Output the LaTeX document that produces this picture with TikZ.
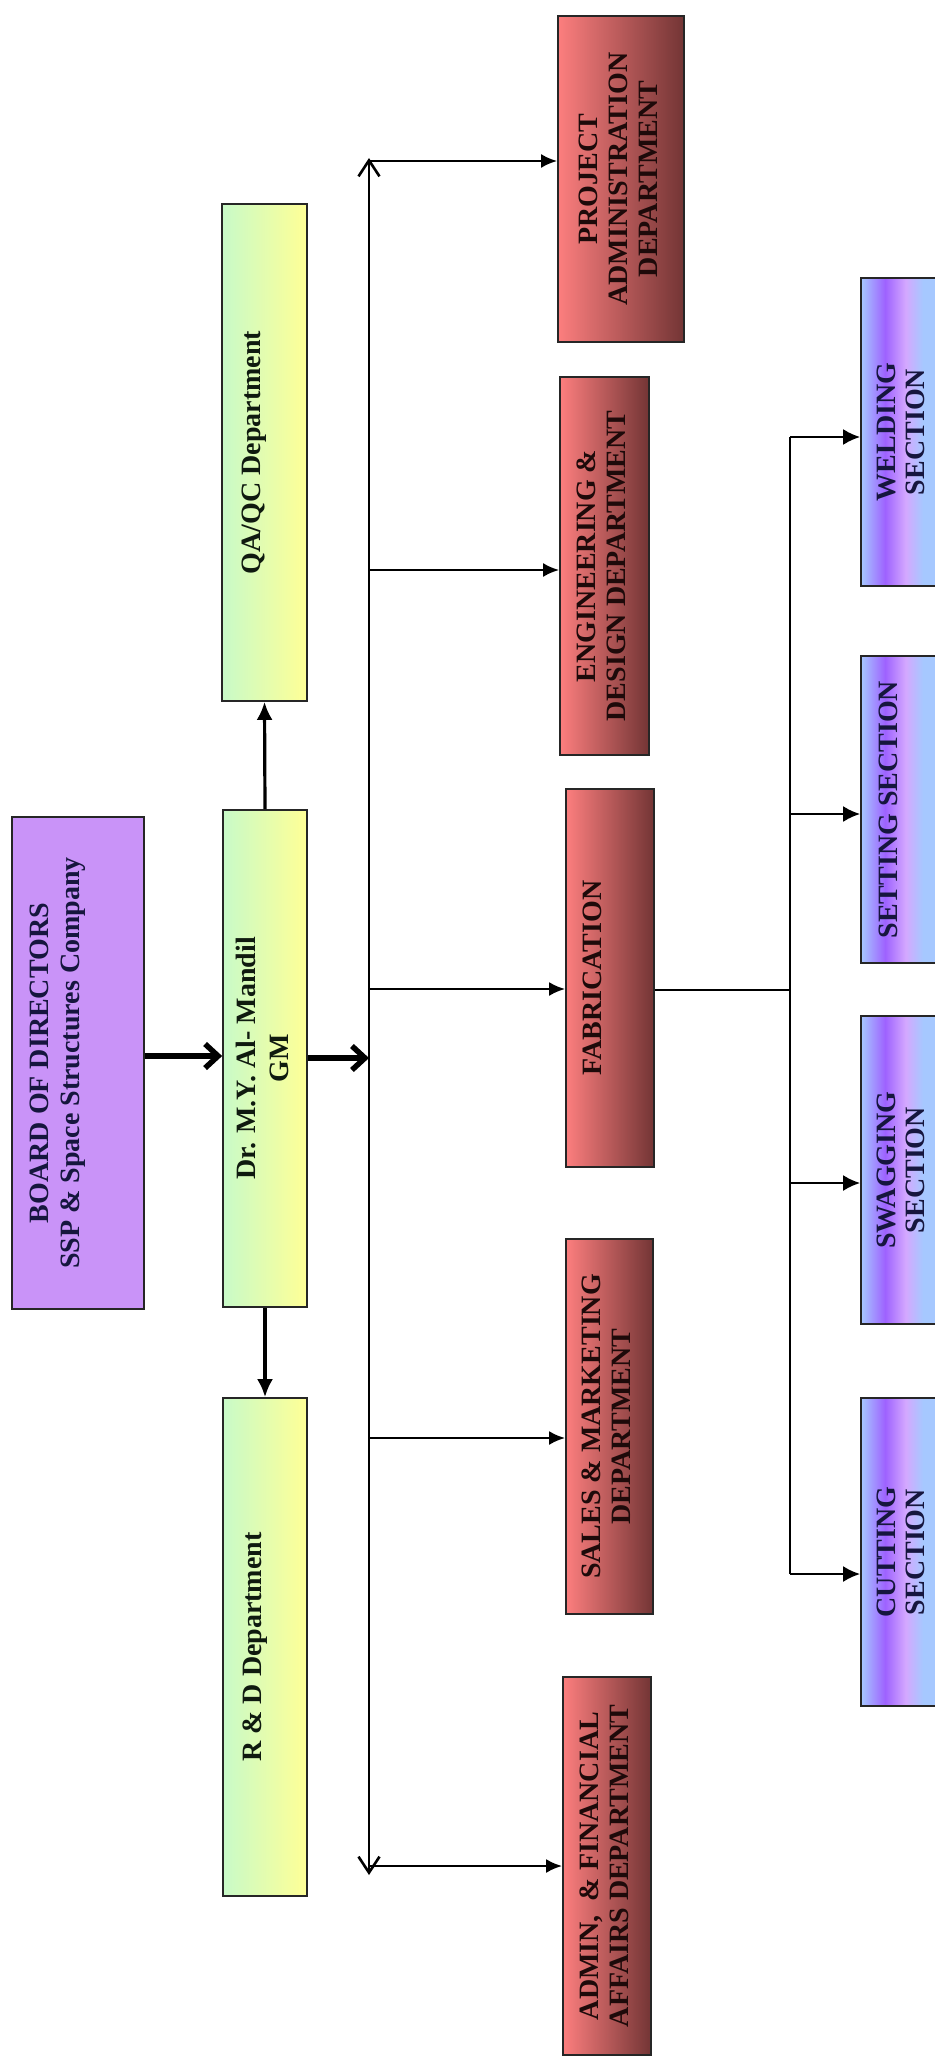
\documentclass[tikz,border=0pt]{standalone}
\usepackage{fontspec}
\setmainfont{Liberation Serif}
\usepackage{graphicx}
\usetikzlibrary{arrows.meta}
\definecolor{gL}{HTML}{C8FAC8}
\definecolor{gM}{HTML}{F2F9B2}
\definecolor{gR}{HTML}{FFFF96}
\definecolor{gT}{HTML}{0F1A0F}
\definecolor{rL}{HTML}{FC7E7E}
\definecolor{rM}{HTML}{E06E6E}
\definecolor{rR}{HTML}{733535}
\definecolor{rT}{HTML}{1E0A0A}
\definecolor{bA}{HTML}{A6C8FF}
\definecolor{bP}{HTML}{9E62FF}
\definecolor{bV}{HTML}{D4A8FF}
\definecolor{bT}{HTML}{16163E}
\definecolor{boardc}{HTML}{C993F8}
\pgfdeclarehorizontalshading{bluesh}{100bp}{color(0bp)=(bA); color(25bp)=(bA); color(39bp)=(bP); color(51bp)=(bV); color(61bp)=(bA); color(100bp)=(bA)}
\newcommand\vtxt[1]{\rotatebox{90}{\begin{tabular}{@{}c@{}}#1\end{tabular}}}
\tikzset{
  boxbase/.style={draw=black!85, line width=1.7pt, inner sep=0pt},
  boardbox/.style={boxbase, fill=boardc, text=bT, font=\bfseries\fontsize{28}{31}\selectfont},
  greenbox/.style={boxbase, left color=gL, middle color=gM, right color=gR, text=gT, font=\bfseries\fontsize{28}{31}\selectfont},
  gmbox/.style={greenbox, font=\bfseries\fontsize{28}{33}\selectfont},
  redbox/.style={boxbase, left color=rL, middle color=rM, right color=rR, text=rT, font=\bfseries\fontsize{28}{30}\selectfont},
  bluebox/.style={boxbase, shading=bluesh, text=bT, font=\bfseries\fontsize{28}{29}\selectfont, minimum width=86pt, minimum height=308pt},
  bigarrow/.style={draw=black, line width=5.5pt, -{Straight Barb[length=13pt,width=24pt]}},
  midarrow/.style={draw=black, line width=3.2pt, -{Latex[length=18pt,width=16pt]}},
  mainline/.style={draw=black, line width=2.6pt, {Straight Barb[length=16pt,width=21pt]}-{Straight Barb[length=16pt,width=21pt]}},
  brarrow/.style={draw=black, line width=2.6pt, -{Latex[length=16pt,width=14pt]}},
  subline/.style={draw=black, line width=2.2pt},
  subarrow/.style={draw=black, line width=2.4pt, -{Latex[length=17pt,width=16pt]}}
}
\begin{document}
\begin{tikzpicture}[x=1pt,y=-1pt]
\useasboundingbox (0,0) rectangle (934,2060);
\fill[white] (0,0) rectangle (934,2060);

% top level
\node[boardbox, minimum width=132pt, minimum height=492pt] (board) at (78,1063)
  {\vtxt{BOARD OF DIRECTORS\\SSP \& Space Structures Company}\hspace*{40pt}};
\node[gmbox, minimum width=84pt, minimum height=497pt] (gm) at (265,1058.5)
  {\vtxt{Dr. M.Y. Al- Mandil\\GM}};
\node[greenbox, minimum width=85pt, minimum height=497pt] (qa) at (264.5,452.5)
  {\vtxt{QA/QC Department}\hspace*{20pt}};
\node[greenbox, minimum width=84pt, minimum height=498pt] (rd) at (265,1647)
  {\vtxt{R \& D Department}\hspace*{20pt}};

% departments
\node[redbox, minimum width=126pt, minimum height=326pt] (proj) at (621,179)
  {\vtxt{PROJECT\\ADMINISTRATION\\DEPARTMENT}};
\node[redbox, minimum width=89pt, minimum height=378pt] (eng) at (604.5,566)
  {\vtxt{ENGINEERING \&\\DESIGN DEPARTMENT}};
\node[redbox, minimum width=88pt, minimum height=378pt] (fab) at (610,978)
  {\vtxt{FABRICATION}\hspace*{29pt}};
\node[redbox, minimum width=87pt, minimum height=375pt] (sales) at (609.5,1426.5)
  {\vtxt{SALES \& MARKETING\\DEPARTMENT}};
\node[redbox, minimum width=88pt, minimum height=378pt] (admin) at (607,1866)
  {\vtxt{ADMIN,\ \ \& FINANCIAL\\AFFAIRS DEPARTMENT}};

% sections
\node[bluebox] (weld) at (904,432) {\vtxt{WELDING\\SECTION}};
\node[bluebox, minimum height=307pt] (set) at (904,809.5) {\vtxt{SETTING SECTION}\hspace*{24pt}};
\node[bluebox] (swag) at (904,1170) {\vtxt{SWAGGING\\SECTION}};
\node[bluebox] (cut) at (904,1552) {\vtxt{CUTTING\\SECTION}};

% helper coordinates
\coordinate (vt) at (369,158);
\coordinate (vb) at (369,1875);
\coordinate (ya) at (0,1056);
\coordinate (yb) at (0,1058);
\coordinate (b1) at (369,161);
\coordinate (b2) at (369,570);
\coordinate (b3) at (369,989);
\coordinate (b4) at (369,1438);
\coordinate (b5) at (369,1866);
\coordinate (fj) at (790,990);
\coordinate (s1) at (790,437);
\coordinate (s2) at (790,814);
\coordinate (s3) at (790,1183);
\coordinate (s4) at (790,1574);

% connectors
\draw[bigarrow] (board.east |- ya) -- (gm.west |- ya);
\draw[bigarrow] (gm.east |- yb) -- (vt |- yb);
\draw[midarrow] (gm.north) -- (qa.south);
\draw[midarrow] (gm.south) -- (rd.north);
\draw[mainline] (vt) -- (vb);
\draw[brarrow] (b1) -- (b1 -| proj.west);
\draw[brarrow] (b2) -- (b2 -| eng.west);
\draw[brarrow] (b3) -- (b3 -| fab.west);
\draw[brarrow] (b4) -- (b4 -| sales.west);
\draw[brarrow] (b5) -- (b5 -| admin.west);
\draw[subline] (fab.east |- fj) -- (fj);
\draw[subline] (s1) -- (s4);
\draw[subarrow] (s1) -- (s1 -| weld.west);
\draw[subarrow] (s2) -- (s2 -| set.west);
\draw[subarrow] (s3) -- (s3 -| swag.west);
\draw[subarrow] (s4) -- (s4 -| cut.west);
\end{tikzpicture}
\end{document}
